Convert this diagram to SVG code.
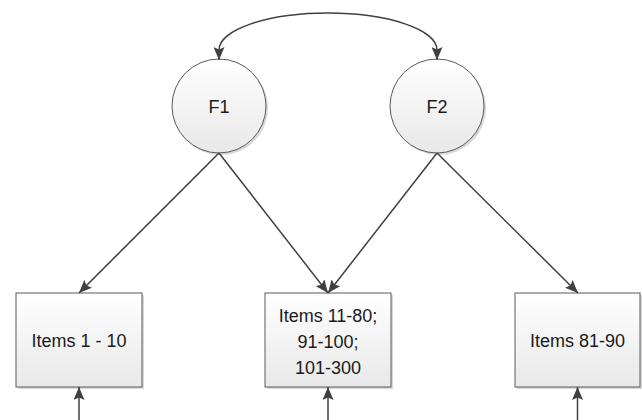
<svg xmlns="http://www.w3.org/2000/svg" width="642" height="420" viewBox="0 0 642 420">
<style>
.node{fill:url(#g);stroke:#5a5a5a;stroke-width:1}
.sh{fill:#d9d9d9}
.lbl{font-family:"Liberation Sans",Arial,sans-serif;font-size:18px;fill:#1a1a1a;text-anchor:middle}
.edge{fill:none;stroke:#404040;stroke-width:1.5}
</style>
<defs>
<linearGradient id="g" x1="0" y1="0" x2="0" y2="1">
<stop offset="0" stop-color="#ffffff"/>
<stop offset="1" stop-color="#e8e8e8"/>
</linearGradient>
<marker id="ah" markerUnits="userSpaceOnUse" markerWidth="13" markerHeight="11" viewBox="0 0 13 11" refX="13" refY="5.5" orient="auto-start-reverse">
<path d="M0,0 L13,5.5 L0,11 L2.5,5.5 z" fill="#404040"/>
</marker>
</defs>
<g id="F1">
<circle class="sh" cx="221" cy="108" r="47"/>
<circle class="node" cx="219" cy="106" r="47" stroke="#404040"/>
<text class="lbl" x="219" y="113">F1</text>
</g>
<g id="F2">
<circle class="sh" cx="439" cy="108" r="47"/>
<circle class="node" cx="437" cy="106" r="47" stroke="#404040"/>
<text class="lbl" x="437" y="113">F2</text>
</g>
<g id="box1">
<rect class="sh" x="18" y="295" width="126" height="94"/>
<rect class="node" x="16" y="293" width="126" height="94"/>
<text class="lbl" x="79" y="347">Items 1 - 10</text>
</g>
<g id="box2">
<rect class="sh" x="267" y="295" width="126" height="94"/>
<rect class="node" x="265" y="293" width="126" height="94"/>
<text class="lbl" x="328" y="321.5">Items 11-80;</text>
<text class="lbl" x="328" y="347.5">91-100;</text>
<text class="lbl" x="328" y="373.5">101-300</text>
</g>
<g id="box3">
<rect class="sh" x="517" y="295" width="126" height="94"/>
<rect class="node" x="515" y="293" width="125" height="94"/>
<text class="lbl" x="577.5" y="347">Items 81-90</text>
</g>
<g id="connectors">
<path class="edge" d="M219,60 L219,50 A109,37 0 0 1 437,50 L437,60" marker-start="url(#ah)" marker-end="url(#ah)"/>
<line class="edge" x1="219" y1="153" x2="79" y2="293" marker-end="url(#ah)"/>
<line class="edge" x1="219" y1="153" x2="328" y2="293" marker-end="url(#ah)"/>
<line class="edge" x1="437" y1="153" x2="328" y2="293" marker-end="url(#ah)"/>
<line class="edge" x1="437" y1="153" x2="578" y2="293" marker-end="url(#ah)"/>
<line class="edge" x1="79" y1="420" x2="79" y2="387" marker-end="url(#ah)"/>
<line class="edge" x1="328" y1="420" x2="328" y2="387" marker-end="url(#ah)"/>
<line class="edge" x1="577.5" y1="420" x2="577.5" y2="387" marker-end="url(#ah)"/>
</g>
</svg>
